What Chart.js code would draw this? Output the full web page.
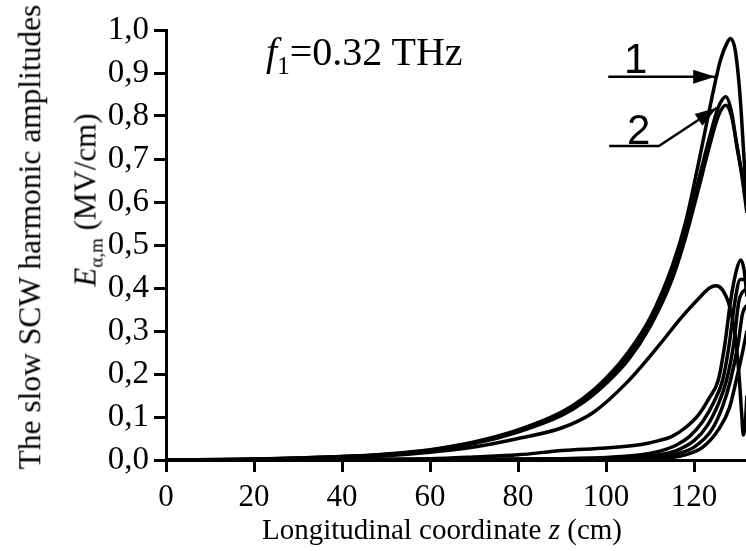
<!DOCTYPE html>
<html>
<head>
<meta charset="utf-8">
<script src="https://cdn.jsdelivr.net/npm/chart.js@4"></script>
<style>
  body { margin: 0; background: #fff; }
  #wrap { position: relative; width: 746px; height: 551px; overflow: hidden; }
  .t { position: absolute; color: #000; white-space: nowrap; line-height: 1; font-family: "Liberation Serif", "Times New Roman", serif; }
  .num { font-family: "Liberation Sans", Arial, sans-serif; font-size: 42px; }
  .rot { transform: translate(-50%, -50%) rotate(-90deg); }
</style>
</head>
<body>
<div id="wrap">
  <canvas id="myChart" width="746" height="551"></canvas>
  <div class="t" style="left:266px; top:32px; font-size:40px;"><i>f</i><span style="font-size:25px; position:relative; top:9px;">1</span>=0.32 THz</div>
  <div class="t" style="left:442px; top:529px; font-size:29px; transform:translate(-50%,-50%);">Longitudinal coordinate <i>z</i> (cm)</div>
  <div class="t rot" style="left:30px; top:237px; font-size:31.5px;">The slow SCW harmonic amplitudes</div>
  <div class="t rot" style="left:85px; top:200px; font-size:31px;"><i>E</i><span style="font-size:19px; position:relative; top:7px;">α,m</span> (MV/cm)</div>
  <div class="t num" style="left:624px; top:38px;">1</div>
  <div class="t num" style="left:627px; top:109px;">2</div>
</div>
<script>
// curves 1 and 2 (upper bundle)
const zC1 = [0, 20, 40, 50, 60, 70, 80, 90, 95, 100, 105, 110, 115, 118, 121, 124, 126, 127.5, 128.3, 129.4, 130.5, 131.3, 132];
const eC1 = [0, 0.002, 0.008, 0.014, 0.024, 0.042, 0.07, 0.112, 0.145, 0.19, 0.25, 0.33, 0.45, 0.55, 0.69, 0.84, 0.93, 0.97, 0.98, 0.95, 0.84, 0.71, 0.6];
const zC2 = [0, 20, 40, 50, 60, 70, 80, 90, 95, 100, 105, 110, 115, 118, 121, 123.5, 125.5, 127.2, 128.5, 129.7, 130.8, 132];
const eC2 = [0, 0.002, 0.008, 0.013, 0.023, 0.04, 0.068, 0.108, 0.14, 0.185, 0.24, 0.32, 0.43, 0.53, 0.65, 0.75, 0.82, 0.845, 0.81, 0.73, 0.67, 0.6];
const eC2b = [0, 0.002, 0.007, 0.012, 0.022, 0.038, 0.065, 0.104, 0.135, 0.178, 0.232, 0.31, 0.42, 0.515, 0.63, 0.73, 0.8, 0.825, 0.8, 0.735, 0.665, 0.575];
// curve with the 0,4 maximum
const zC3 = [0, 20, 40, 50, 60, 70, 80, 90, 97, 104.7, 112.3, 117, 121, 123.5, 125, 126.5, 128, 129.2, 130.2, 130.8, 131.2, 131.6, 132];
const eC3 = [0, 0.002, 0.006, 0.01, 0.018, 0.03, 0.05, 0.075, 0.11, 0.18, 0.27, 0.33, 0.375, 0.4, 0.405, 0.395, 0.36, 0.3, 0.2, 0.11, 0.058, 0.08, 0.15];
// late-growing harmonics
const zL1 = [0, 40, 60, 70, 80, 90, 100, 108, 112, 115, 118, 121, 123.5, 125.5, 127, 128.3, 129.6, 130.6, 131.4, 132];
const eL1 = [0, 0.001, 0.003, 0.007, 0.012, 0.022, 0.028, 0.036, 0.045, 0.055, 0.075, 0.105, 0.145, 0.186, 0.27, 0.37, 0.44, 0.465, 0.44, 0.38];
const zL2 = [0, 60, 100, 108, 112, 116, 119, 122, 124.5, 126.5, 128, 129.3, 130.5, 132];
const eL2 = [0, 0.001, 0.006, 0.012, 0.02, 0.035, 0.055, 0.09, 0.135, 0.186, 0.27, 0.37, 0.42, 0.42];
const zL3 = [0, 60, 105, 112, 116, 120, 123, 125.5, 127.4, 129, 130.2, 132];
const eL3 = [0, 0.001, 0.005, 0.012, 0.022, 0.045, 0.08, 0.13, 0.186, 0.27, 0.37, 0.4];
const zL4 = [0, 60, 110, 116, 120, 124, 126.5, 128.3, 130, 131, 132];
const eL4 = [0, 0.001, 0.005, 0.014, 0.03, 0.07, 0.125, 0.186, 0.27, 0.34, 0.36];
const zL5 = [0, 60, 112, 118, 122, 125.5, 128, 129.6, 131, 132];
const eL5 = [0, 0.001, 0.004, 0.012, 0.03, 0.07, 0.12, 0.186, 0.25, 0.3];

const xTicks = [0, 20, 40, 60, 80, 100, 120];

// arrows to curves 1 and 2, in data units
const arrow1 = [[100.5, 0.891], [124.8, 0.891]];
const arrow2 = [[100.7, 0.73], [112, 0.73], [125.2, 0.819]];

function pts(zs, es){
    return zs.map((z, i) => ({x: z, y: es[i]}));
}

var curves = [
    pts(zC1, eC1), pts(zC2, eC2), pts(zC2, eC2b), pts(zC3, eC3),
    pts(zL1, eL1), pts(zL2, eL2), pts(zL3, eL3), pts(zL4, eL4), pts(zL5, eL5)
];

var arrows = {
    id: 'arrows',
    afterDatasetsDraw(chart){
        const ctx = chart.ctx, xs = chart.scales.x, ys = chart.scales.y;
        [arrow1, arrow2].forEach(a => {
            const p = a.map(q => [xs.getPixelForValue(q[0]), ys.getPixelForValue(q[1])]);
            ctx.save();
            ctx.strokeStyle = '#000';
            ctx.fillStyle = '#000';
            ctx.lineWidth = 2.5;
            ctx.beginPath();
            ctx.moveTo(p[0][0], p[0][1]);
            for (let i = 1; i < p.length; i++) ctx.lineTo(p[i][0], p[i][1]);
            ctx.stroke();
            // head
            const t = p[p.length - 1], f = p[p.length - 2];
            const ang = Math.atan2(t[1] - f[1], t[0] - f[0]);
            ctx.translate(t[0], t[1]);
            ctx.rotate(ang);
            ctx.beginPath();
            ctx.moveTo(0, 0);
            ctx.lineTo(-22, -7);
            ctx.lineTo(-22, 7);
            ctx.closePath();
            ctx.fill();
            ctx.restore();
        });
    }
};

var ctx = document.getElementById('myChart').getContext('2d');
var myChart = new Chart(ctx, {
    type: 'line',
    data: {
        datasets: curves.map(c => ({
            data: c,
            borderColor: '#000',
            borderWidth: 3.5,
            pointRadius: 0,
            fill: false,
            cubicInterpolationMode: 'monotone'
        }))
    },
    options: {
        responsive: false,
        animation: false,
        devicePixelRatio: 1,
        layout: { padding: { top: 30, right: 0, left: 0, bottom: 0 } },
        plugins: { legend: { display: false }, tooltip: { enabled: false } },
        scales: {
            x: {
                type: 'linear', min: 0, max: 131.8,
                afterBuildTicks: s => { s.ticks = xTicks.map(v => ({value: v})); },
                ticks: { color: '#000', padding: 7, font: { family: 'Liberation Serif', size: 31 } },
                grid: { drawOnChartArea: false, tickLength: 12, lineWidth: 3, color: '#000' },
                border: { width: 3, color: '#000' },
                afterFit: s => { s.height = 91; }
            },
            y: {
                min: 0, max: 1,
                ticks: { stepSize: 0.1, color: '#000', padding: 5,
                    font: { family: 'Liberation Serif', size: 33 },
                    callback: v => v.toFixed(1).replace('.', ',') },
                grid: { drawOnChartArea: false, tickLength: 12, lineWidth: 3, color: '#000' },
                border: { width: 3, color: '#000' },
                afterFit: s => { s.width = 166; }
            }
        }
    },
    plugins: [arrows]
});
</script>
</body>
</html>
